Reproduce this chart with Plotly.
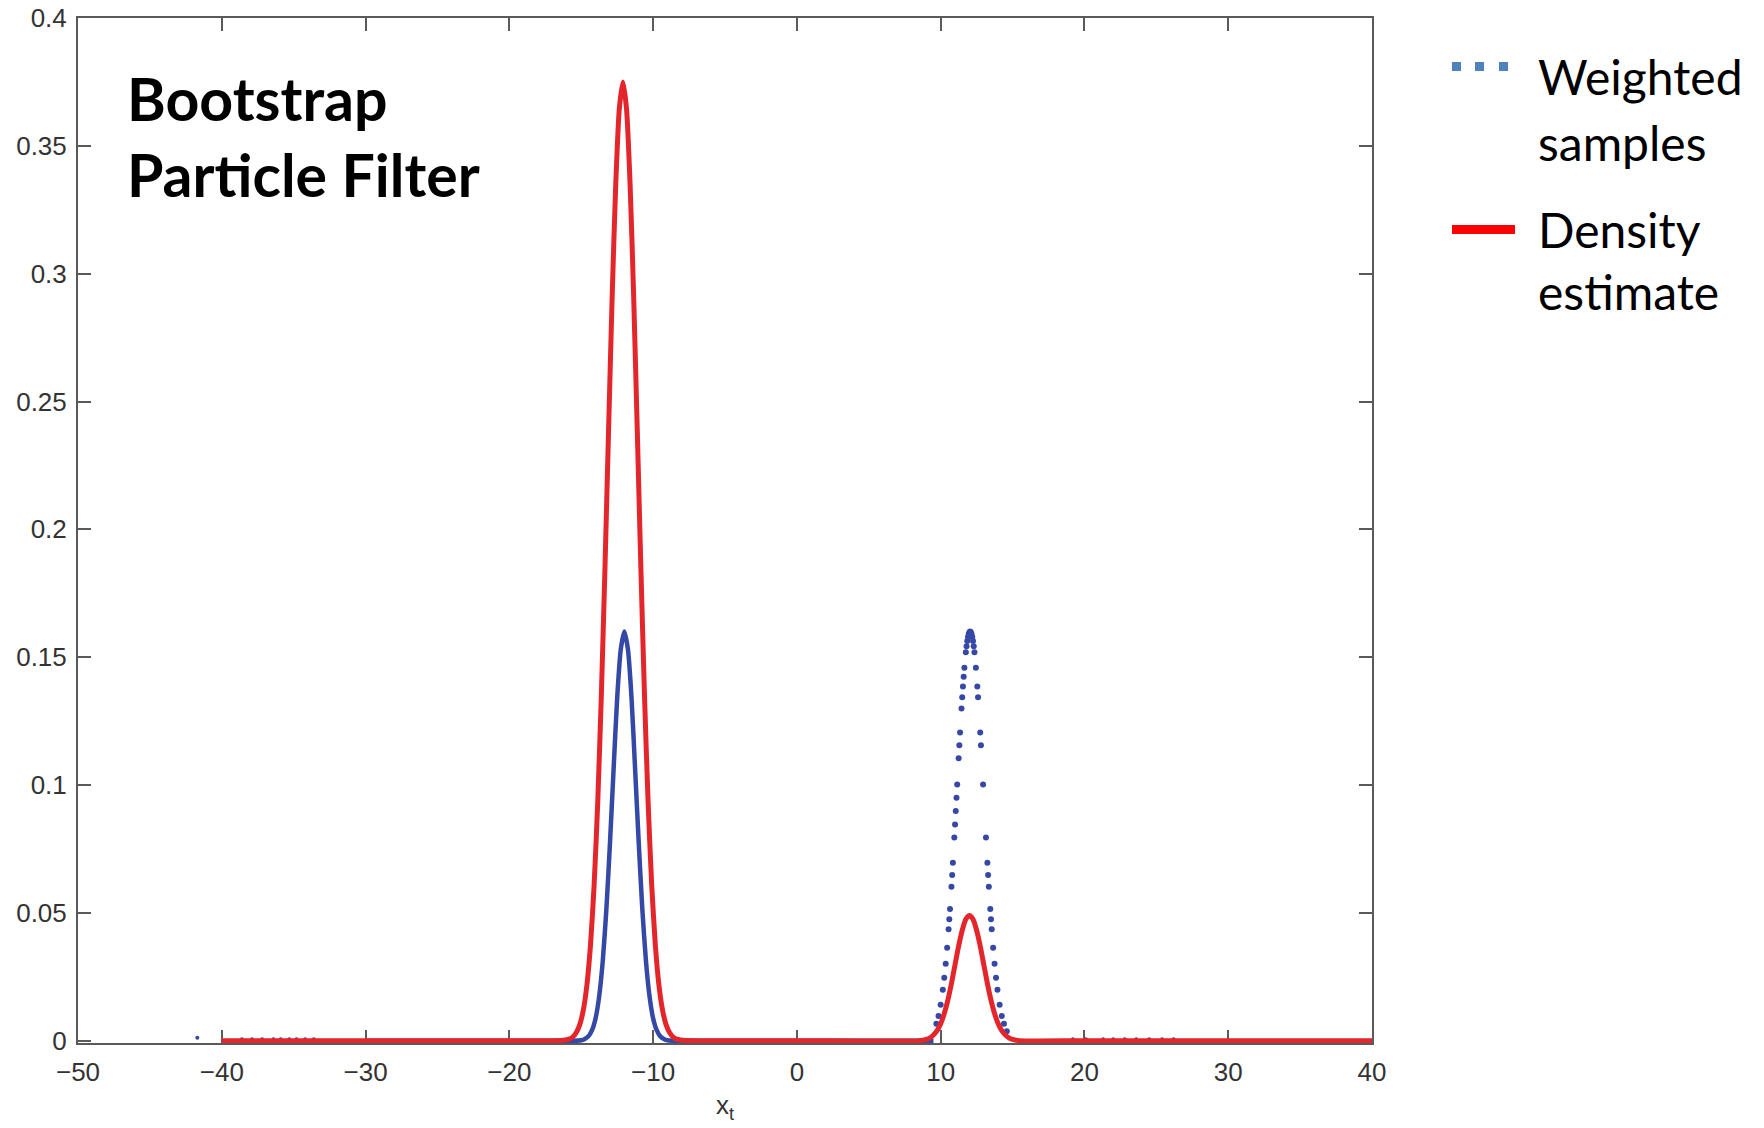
import plotly.graph_objects as go

# ---------------- data ----------------
x_ticks = [-50, -40, -30, -20, -10, 0, 10, 20, 30, 40]
y_ticks = [0, 0.05, 0.1, 0.15, 0.2, 0.25, 0.3, 0.35, 0.4]
y_tick_labels = ["0", "0.05", "0.1", "0.15", "0.2", "0.25", "0.3", "0.35", "0.4"]

# Density estimate (red curve)
density_x = [-40, -30, -20, -17,
             -16.1, -15.85, -15.6, -15.35, -15.1, -14.85, -14.6, -14.35, -14.1, -13.85, -13.6,
             -13.35, -13.1, -12.85, -12.6, -12.35, -12.1, -11.85, -11.6, -11.35, -11.1, -10.85,
             -10.6, -10.35, -10.1, -9.85, -9.6, -9.35, -9.1, -8.85, -8.6, -8.35, -8.1,
             -7, 0, 8.5,
             9.0, 9.25, 9.5, 9.75, 10.0, 10.25, 10.5, 10.75, 11.0, 11.25, 11.5, 11.75, 12.0,
             12.25, 12.5, 12.75, 13.0, 13.25, 13.5, 13.75, 14.0, 14.25, 14.5, 14.75, 15.0,
             15.5, 20, 30, 40]
density_y = [0, 0, 0, 0,
             0.0003, 0.0006, 0.0014, 0.0031, 0.0063, 0.0121, 0.0220, 0.0378, 0.0611, 0.0935, 0.1352,
             0.1846, 0.2383, 0.2906, 0.3348, 0.3645, 0.375, 0.3645, 0.3348, 0.2906, 0.2383, 0.1846,
             0.1352, 0.0935, 0.0611, 0.0378, 0.0220, 0.0121, 0.0063, 0.0031, 0.0014, 0.0006, 0.0003,
             0, 0, 0,
             0.0005, 0.0011, 0.0022, 0.0039, 0.0066, 0.0106, 0.0159, 0.0224, 0.0297, 0.0370, 0.0432, 0.0475, 0.049,
             0.0475, 0.0432, 0.0370, 0.0297, 0.0224, 0.0159, 0.0106, 0.0066, 0.0039, 0.0022, 0.0011, 0.0005,
             0, 0, 0, 0]

# Weighted samples, dense cluster (left peak, appears as a continuous band)
samples_dense_x = [-30, -20, -15.5,
                   -15.0, -14.75, -14.5, -14.25, -14.0, -13.75, -13.5, -13.25, -13.0, -12.75, -12.5,
                   -12.25, -12.0, -11.75, -11.5, -11.25, -11.0, -10.75, -10.5, -10.25, -10.0, -9.75,
                   -9.5, -9.25, -9.0,
                   -8.5, 0, 9.5]
samples_dense_y = [0, 0, 0,
                   0.0002, 0.0007, 0.0017, 0.0041, 0.0088, 0.0174, 0.0313, 0.0515, 0.0774, 0.106, 0.134,
                   0.153, 0.160, 0.153, 0.134, 0.106, 0.0774, 0.0515, 0.0313, 0.0174, 0.0088, 0.0041,
                   0.0017, 0.0007, 0.0002,
                   0, 0, 0]

# Weighted samples, sparse cluster (right peak, individual particles)
samples_sparse_x = [9.7, 9.85, 10.0, 10.15, 10.25, 10.35, 10.45, 10.55, 10.6, 10.65, 10.75, 10.8,
                    10.85, 10.95, 11.0, 11.05, 11.1, 11.15, 11.25, 11.3, 11.35, 11.45, 11.5, 11.55,
                    11.6, 11.65, 11.75, 11.8, 11.85, 11.9, 11.95, 12.0, 12.05,
                    12.1, 12.15, 12.2, 12.25, 12.3, 12.35, 12.45, 12.55, 12.6, 12.75, 12.8, 12.95,
                    13.15, 13.25, 13.3, 13.35, 13.45, 13.5, 13.55, 13.65, 13.75, 13.85, 13.95, 14.1,
                    14.25, 14.4, 14.6]
samples_sparse_y = [0.0066, 0.0097, 0.0141, 0.0199, 0.0246, 0.0301, 0.0364, 0.0436, 0.0475, 0.0515,
                    0.0602, 0.0648, 0.0696, 0.0795, 0.0846, 0.0898, 0.0950, 0.1002, 0.1105, 0.1156,
                    0.1205, 0.1299, 0.1343, 0.1385, 0.1423, 0.1459, 0.1519, 0.1543, 0.1563, 0.1579,
                    0.1591, 0.1598, 0.160,
                    0.1598, 0.1591, 0.1579, 0.1563, 0.1543, 0.1519, 0.1459, 0.1385, 0.1343, 0.1205,
                    0.1156, 0.1002, 0.0795, 0.0696, 0.0648, 0.0602, 0.0515, 0.0475, 0.0436, 0.0364,
                    0.0301, 0.0246, 0.0199, 0.0141, 0.0097, 0.0066, 0.0037]

# Stray low-weight particles in the tails
samples_tail_x = [-41.7, -38.6, -37.9, -37.2, -36.4, -35.9, -35.3, -34.8, -34.2, -33.6,
                  19.2, 20.1, 21.3, 22.0, 22.8, 23.6, 24.5, 25.4, 26.2]
samples_tail_y = [0.0012, 0.0006, 0.0006, 0.0006, 0.0006, 0.0006, 0.0006, 0.0006, 0.0006, 0.0006,
                  0.0006, 0.0006, 0.0006, 0.0006, 0.0006, 0.0006, 0.0006, 0.0006, 0.0006]

title_lines = ["Bootstrap", "Particle Filter"]
legend_lines = ["Weighted", "samples", "Density", "estimate"]

# ---------------- styling ----------------
BLUE = "#3548a6"
RED = "#e3262b"
LEG_BLUE = "#4F81BD"
LEG_RED = "#FF0000"
AXIS = "#5a5a5a"

W, H = 1764, 1128
ML, MR, MT, MB = 78, 392, 18, 85
PW, PH = W - ML - MR, H - MT - MB


def px_x(p):
    return (p - ML) / PW


def px_y(p):
    return (H - MB - p) / PH


fig = go.Figure()

fig.add_trace(go.Scatter(x=samples_dense_x, y=samples_dense_y, mode="lines",
                         line=dict(color=BLUE, width=4.5, shape="spline", smoothing=0.6),
                         showlegend=False, hoverinfo="skip"))
fig.add_trace(go.Scatter(x=samples_sparse_x, y=samples_sparse_y, mode="markers",
                         marker=dict(color=BLUE, size=6, symbol="circle", line=dict(width=0)),
                         showlegend=False, hoverinfo="skip"))
fig.add_trace(go.Scatter(x=samples_tail_x, y=samples_tail_y, mode="markers",
                         marker=dict(color=BLUE, size=4, line=dict(width=0)),
                         showlegend=False, hoverinfo="skip"))
fig.add_trace(go.Scatter(x=density_x, y=density_y, mode="lines",
                         line=dict(color=RED, width=5, shape="spline", smoothing=0.6),
                         showlegend=False, hoverinfo="skip"))

tick_font = dict(family="Liberation Sans, Arial, sans-serif", size=26, color="#333333")

fig.update_xaxes(range=[-50, 40], tickvals=x_ticks, ticks="inside", ticklen=13, tickwidth=1.5,
                 tickcolor=AXIS, showline=True, linecolor=AXIS, linewidth=2, mirror="ticks",
                 showgrid=False, zeroline=False, tickfont=tick_font, ticklabelstandoff=5,
                 layer="below traces",
                 title=dict(text="x<sub>t</sub>", font=dict(family="Liberation Sans, Arial, sans-serif",
                                                            size=26, color="#333333"), standoff=10))
fig.update_yaxes(range=[-0.0009, 0.4], tickvals=y_ticks, ticktext=y_tick_labels, ticks="inside",
                 ticklen=13, tickwidth=1.5, tickcolor=AXIS, showline=True, linecolor=AXIS,
                 linewidth=2, mirror="ticks", showgrid=False, zeroline=False, tickfont=tick_font,
                 ticklabelstandoff=4, layer="below traces")

annotations = []
title_font = dict(family="Lato, sans-serif", size=59, color="#000000")
for line, ypx in zip(title_lines, [98.5, 174.5]):
    annotations.append(dict(text="<b>%s</b>" % line, x=px_x(125), y=px_y(ypx), xref="paper",
                            yref="paper", xanchor="left", yanchor="middle", showarrow=False,
                            font=title_font))
legend_font = dict(family="Lato, sans-serif", size=48, color="#000000")
for line, ypx in zip(legend_lines, [76.5, 142, 229.5, 291.5]):
    annotations.append(dict(text=line, x=px_x(1536), y=px_y(ypx), xref="paper", yref="paper",
                            xanchor="left", yanchor="middle", showarrow=False, font=legend_font))

shapes = []
for x0 in [1452, 1475, 1499]:
    shapes.append(dict(type="rect", xref="paper", yref="paper", x0=px_x(x0), x1=px_x(x0 + 9),
                       y0=px_y(71), y1=px_y(62), fillcolor=LEG_BLUE, line=dict(width=0)))
shapes.append(dict(type="rect", xref="paper", yref="paper", x0=px_x(1452), x1=px_x(1515),
                   y0=px_y(234), y1=px_y(225), fillcolor=LEG_RED, line=dict(width=0)))

fig.update_layout(width=W, height=H, margin=dict(l=ML, r=MR, t=MT, b=MB, autoexpand=False),
                  paper_bgcolor="white", plot_bgcolor="white", annotations=annotations,
                  shapes=shapes, showlegend=False)

fig.write_html("out.html", config={"displayModeBar": False},
               post_script="document.body.style.margin='0';document.body.style.overflow='hidden';")
